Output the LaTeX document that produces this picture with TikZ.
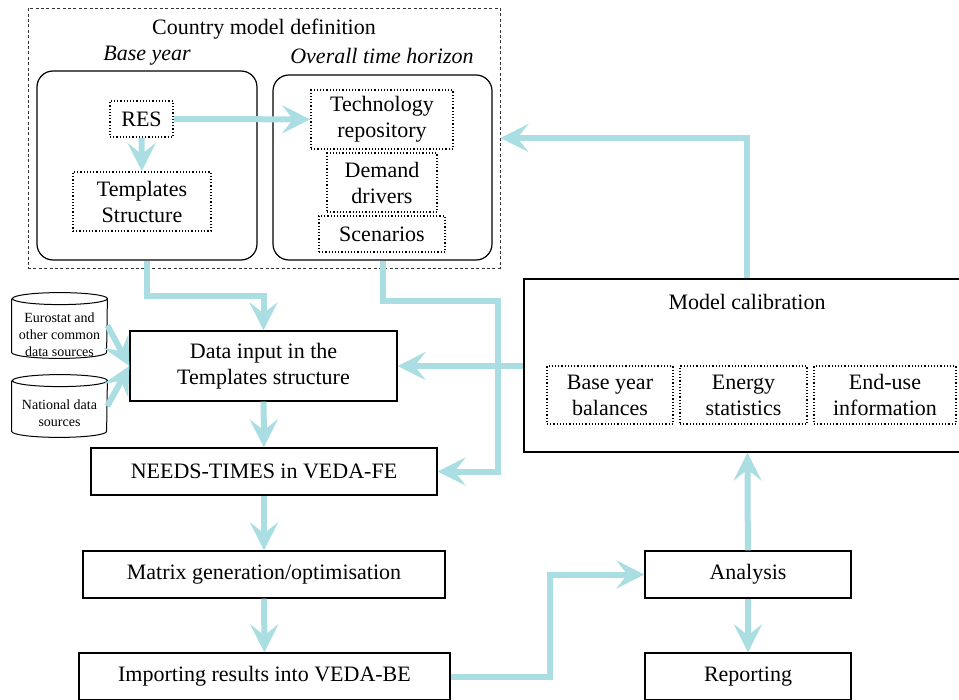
\documentclass[tikz,border=0pt]{standalone}
\usepackage{fontspec}
\setmainfont{Liberation Serif}
\usetikzlibrary{arrows.meta}
\definecolor{flowcyan}{RGB}{170,222,226}
\tikzset{
  box/.style={draw, line width=0.6pt, align=center, inner sep=0pt},
  dotbox/.style={box, densely dotted, line width=0.9pt},
  roundbox/.style={box, rounded corners=8pt},
  db/.style={inner sep=0pt, minimum width=47.5pt},
  dbline/.style={line width=0.5pt},
  dbtext/.style={align=center, inner sep=0pt, font=\fontsize{7}{8.5}\selectfont},
  flow/.style={draw=flowcyan, line width=3pt,
    -{Stealth[length=14pt,width=14pt,inset=5.5pt]}},
}
\begin{document}
\begin{tikzpicture}[x=0.5pt,y=-0.5pt,font=\fontsize{11}{13}\selectfont]
  \useasboundingbox (0,0) rectangle (959,700);
  % country model definition
  \node[box, draw=black!80, line width=0.4pt, dash pattern=on 1.5pt off 1.2pt, minimum width=236pt, minimum height=130pt] (country) at (264,138) {};
  \node (countrytitle) at (264,29) {Country model definition};
  \node[font=\fontsize{11}{13}\selectfont\itshape] (baseyear) at (147,56) {Base year};
  \node[font=\fontsize{11}{13}\selectfont\itshape] (horizontitle) at (382,56) {Overall time horizon};
  \node[roundbox, minimum width=110pt, minimum height=94.5pt] (base) at (147,165.5) {};
  \node[roundbox, minimum width=109.5pt, minimum height=92.5pt] (horizon) at (382.5,167.5) {};
  \node[dotbox, minimum width=31.5pt, minimum height=18pt] (res) at (141.5,119) {RES};
  \node[dotbox, minimum width=69pt, minimum height=29.5pt] (templ) at (142,201.5) {Templates\\Structure};
  \node[dotbox, minimum width=71pt, minimum height=29.5pt] (techrep) at (382,119.5) {Technology\\repository};
  \node[dotbox, minimum width=55pt, minimum height=29.5pt] (demand) at (382,182.5) {Demand\\drivers};
  \node[dotbox, minimum width=63pt, minimum height=18pt] (scen) at (382,234) {Scenarios};
  % data sources
  \node[db, minimum height=32.5pt] (euro) at (59.5,325.5) {};
  \node[dbtext] (eurotext) at (59.5,335) {Eurostat and\\other common\\data sources};
  \node[db, minimum height=31pt] (natdata) at (59.5,406) {};
  \node[dbtext] (nattext) at (59.5,413) {National data\\sources};
  \foreach \db in {euro,natdata}
    \draw[dbline] ([yshift=-3pt]\db.north west) -- ([yshift=3pt]\db.south west)
      arc[start angle=180, end angle=360, x radius=23.75pt, y radius=3pt]
      -- ([yshift=-3pt]\db.north east)
      arc[start angle=0, end angle=360, x radius=23.75pt, y radius=3pt];
  % main chain
  \node[box, minimum width=133.5pt, minimum height=35pt] (datain) at (263.5,366) {Data input in the\\Templates structure};
  \node[box, minimum width=173pt, minimum height=23.5pt] (needs) at (264,471.5) {NEEDS-TIMES in VEDA-FE};
  \node[box, minimum width=181pt, minimum height=23.5pt] (matrix) at (264,574.5) {Matrix generation/optimisation};
  \node[box, minimum width=185.5pt, minimum height=23.5pt] (import) at (264.5,676.5) {Importing results into VEDA-BE};
  \node[box, minimum width=103pt, minimum height=23.5pt] (analysis) at (748,574.5) {Analysis};
  \node[box, minimum width=103pt, minimum height=23.5pt] (report) at (748,676.5) {Reporting};
  % calibration
  \node[box, minimum width=223pt, minimum height=86.5pt] (calib) at (747,365.5) {};
  \node (calibtitle) at (747,302) {Model calibration};
  \node[dotbox, minimum width=63pt, minimum height=29pt] (byb) at (610,395) {Base year\\balances};
  \node[dotbox, minimum width=63.5pt, minimum height=29pt] (enstat) at (743.5,395) {Energy\\statistics};
  \node[dotbox, minimum width=71pt, minimum height=29pt] (enduse) at (885,395) {End-use\\information};
  \begin{scope}[flow]
    \draw (res) to (techrep);
    \draw (res) to (templ);
    \draw (base.south) -- ++(0,35) -| (datain.north);
    \draw (horizon.south) -- ++(0,40) -- ++(115,0) |- (needs.east);
    \draw (calib.north) |- (country.east);
    \draw (calib.west |- datain.east) -- (datain.east);
    \draw (euro.east) -- (datain.west);
    \draw (natdata.east) -- (datain.west);
    \draw (datain) to (needs);
    \draw (needs) to (matrix);
    \draw (matrix) to (import);
    \draw (import.east) -- ++(99,0) |- (analysis.west);
    \draw (analysis) to (calib);
    \draw (analysis) to (report);
  \end{scope}
\end{tikzpicture}
\end{document}
